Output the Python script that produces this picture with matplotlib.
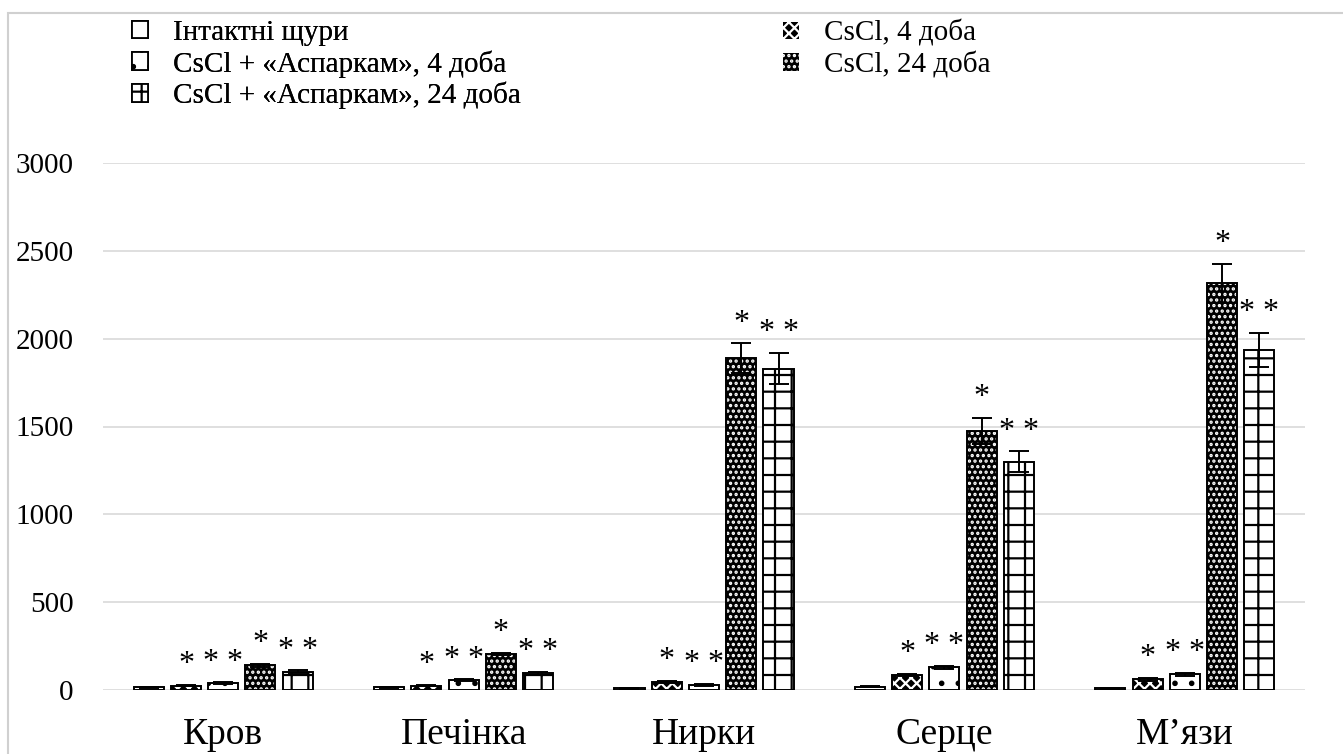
import matplotlib.pyplot as plt
import numpy as np
from matplotlib.patches import Rectangle, Patch

plt.rcParams['font.family'] = ['Liberation Serif', 'DejaVu Serif']
plt.rcParams['hatch.linewidth'] = 1.6

categories = ['Кров', 'Печінка', 'Нирки', 'Серце', 'М’язи']
series_names = ['Інтактні щури', 'CsCl, 4 доба', 'CsCl + «Аспаркам», 4 доба',
                'CsCl, 24 доба', 'CsCl + «Аспаркам», 24 доба']

intact = [15, 15, 10, 18, 10]
cscl_4 = [25, 25, 45, 85, 60]
asp_4 = [40, 55, 30, 130, 90]
cscl_24 = [140, 205, 1890, 1475, 2315]
asp_24 = [105, 95, 1830, 1300, 1935]

intact_err = [3, 3, 3, 3, 3]
cscl_4_err = [4, 4, 6, 8, 8]
asp_4_err = [5, 5, 5, 8, 8]
cscl_24_err = [8, 8, 85, 75, 110]
asp_24_err = [8, 8, 90, 60, 97]

marks = ['', '*', '* *', '*', '* *']

values = [intact, cscl_4, asp_4, cscl_24, asp_24]
errors = [intact_err, cscl_4_err, asp_4_err, cscl_24_err, asp_24_err]

# face, hatch colour, hatch
styles = [('white', 'black', None),
          ('black', 'white', 'xxx'),
          ('white', 'black', '.'),
          ('black', 'white', '...'),
          ('white', 'black', '+')]

fig = plt.figure(figsize=(13.43, 7.54), dpi=100)
ax = fig.add_axes([103 / 1343, 1 - 690 / 754, 1202 / 1343, 527 / 754])

x = np.arange(len(categories))
width = 0.125
step = 0.155
for i in range(5):
    pos = x + (i - 2) * step
    face, hcol, hatch = styles[i]
    ax.bar(pos, values[i], width, color=face, edgecolor=hcol, hatch=hatch,
           linewidth=0, zorder=3)
    ax.bar(pos, values[i], width, color='none', edgecolor='black', linewidth=1.4, zorder=4)
    ax.errorbar(pos, values[i], yerr=errors[i], fmt='none', ecolor='black',
                elinewidth=1.4, capsize=7, capthick=1.4, zorder=5)
    if marks[i]:
        for p, v, e in zip(pos, values[i], errors[i]):
            ax.annotate(marks[i], (p, v + e), xytext=(0, 4), textcoords='offset points',
                        ha='center', va='bottom', fontsize=23)

ax.set_ylim(0, 3000)
ax.set_xlim(-0.5, 4.5)
ax.set_yticks([0, 500, 1000, 1500, 2000, 2500, 3000])
ax.set_xticks(x)
ax.set_xticklabels(categories, fontsize=27)
ax.tick_params(axis='y', labelsize=21, length=0, pad=21)
ax.tick_params(axis='x', length=0, pad=20)
ax.grid(axis='y', color='#d9d9d9', linewidth=1.2, zorder=0)
for s in ax.spines.values():
    s.set_visible(False)

# legend proxies
proxies = []
for face, hcol, hatch in styles:
    if face == 'black':
        proxies.append(Patch(facecolor=face, edgecolor=hcol, hatch=hatch, linewidth=0))
    else:
        proxies.append(Patch(facecolor=face, edgecolor='black', hatch=hatch, linewidth=1.3))

leg_kw = dict(loc='upper left', frameon=False, fontsize=21, handlelength=0.55,
              handleheight=0.55, handletextpad=0.85, labelspacing=0.14,
              borderpad=0, borderaxespad=0)
leg1 = fig.legend([proxies[k] for k in [0, 2, 4]], [series_names[k] for k in [0, 2, 4]],
                  bbox_to_anchor=(132 / 1343, 1 - 20 / 754), **leg_kw)
fig.legend([proxies[k] for k in [1, 3]], [series_names[k] for k in [1, 3]],
           bbox_to_anchor=(783 / 1343, 1 - 20 / 754), **leg_kw)
fig.add_artist(leg1)

fig.patches.append(Rectangle((8 / 1343, -0.1), 1.2, 1.1 - 13 / 754, transform=fig.transFigure,
                             fill=False, edgecolor='#d0d0d0', linewidth=1.5))

fig.savefig('out.png', dpi=100)
